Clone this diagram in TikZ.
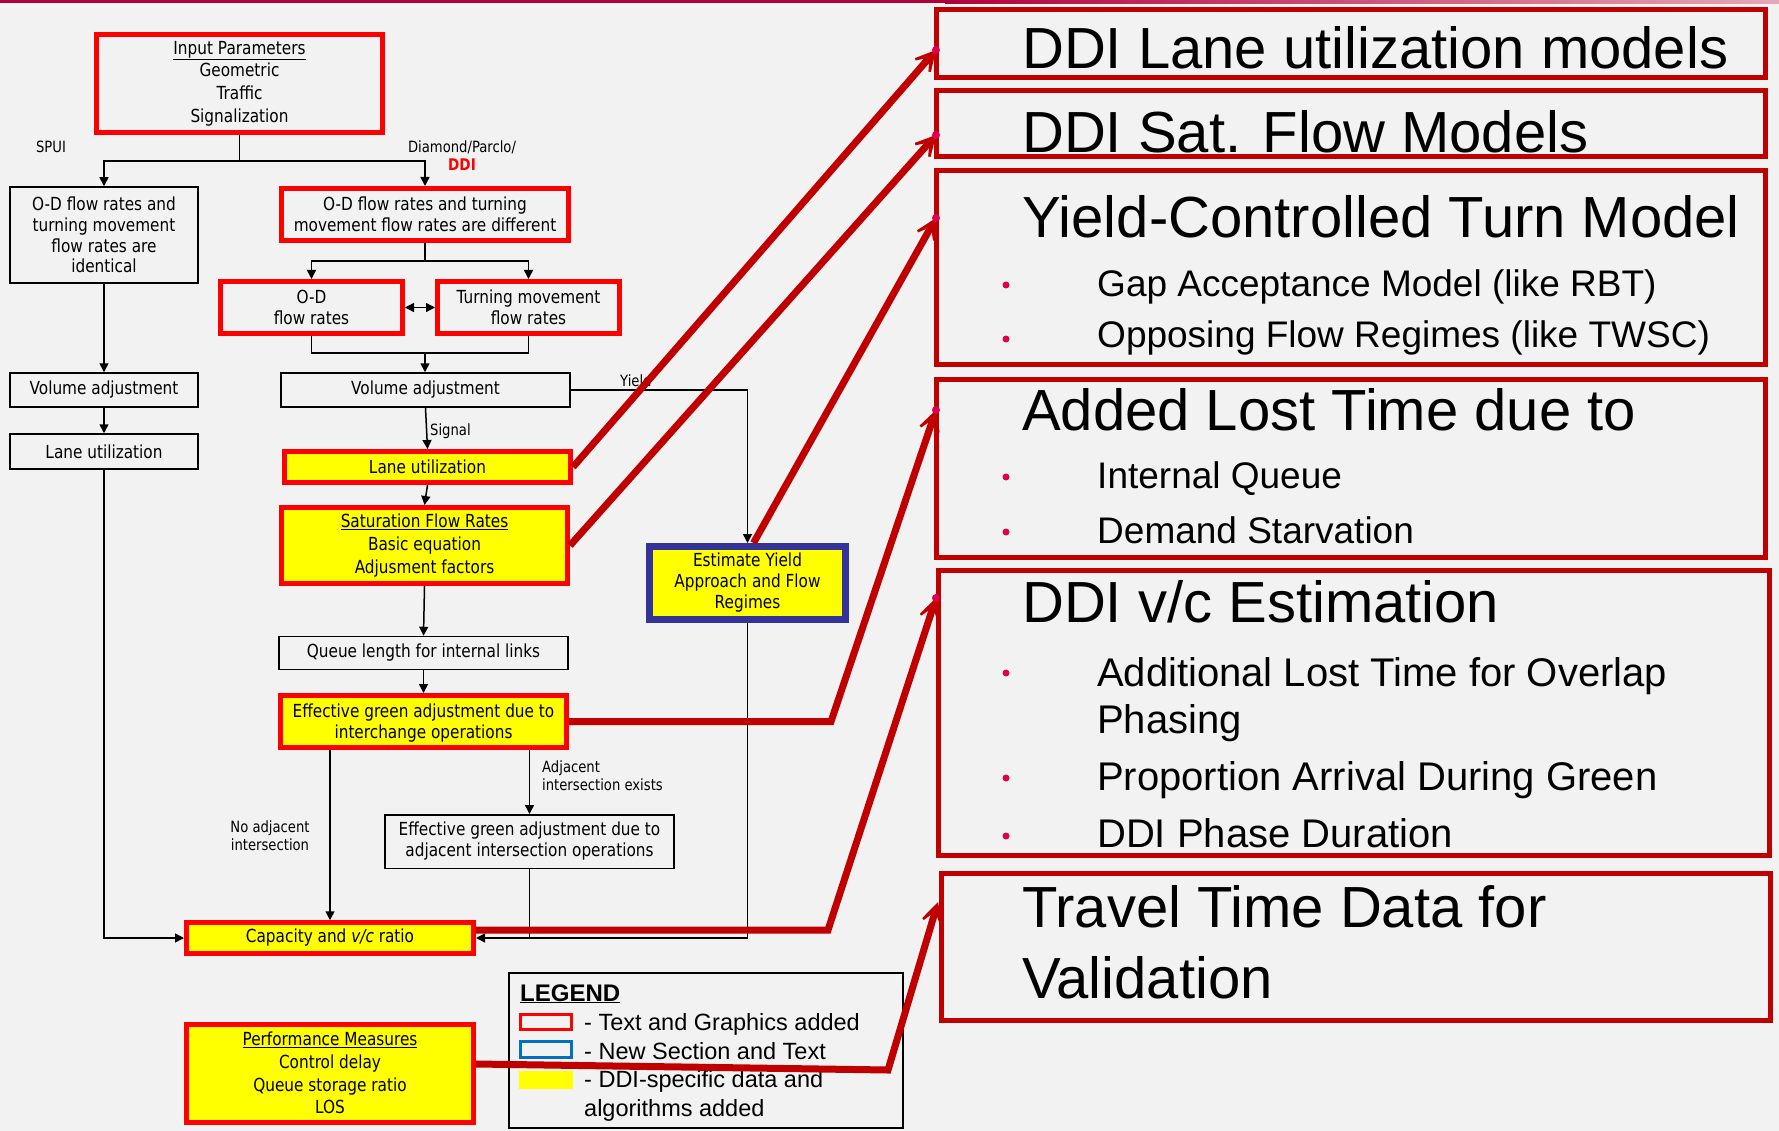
\documentclass[tikz,border=0pt]{standalone}
\usepackage{fontspec}
\setmainfont{Liberation Sans}
\newfontfamily\flowfont[FakeStretch=0.85]{DejaVu Sans}
\usetikzlibrary{arrows.meta,calc}
\definecolor{bg}{HTML}{F2F2F2}
\definecolor{fred}{HTML}{FF0000}
\definecolor{dred}{HTML}{C00000}
\definecolor{fyel}{HTML}{FFFF00}
\definecolor{fblue}{HTML}{333399}
\definecolor{lblue}{HTML}{0070C0}
\definecolor{bul}{HTML}{E0004D}
\definecolor{topred}{HTML}{B0003A}
\definecolor{toppink}{HTML}{E6A8B8}
\begin{document}
\begin{tikzpicture}[x=1pt,y=-1pt,
  fbox/.style={draw=black,line width=1.5pt,inner sep=0pt,align=center,font=\flowfont\fontsize{18}{21}\selectfont},
  wide/.style={font=\flowfont\fontsize{18}{22.7}\selectfont},
  redb/.style={fbox,draw=fred,line width=5pt},
  yelb/.style={redb,fill=fyel},
  lbl/.style={inner sep=0pt,font=\flowfont\fontsize{15.5}{18}\selectfont},
  conn/.style={line width=1.5pt,-{Triangle[length=9pt,width=9pt]}},
  plain/.style={line width=1.5pt},
  bigarr/.style={draw=dred,line width=7pt,line join=miter,-{Stealth[length=34pt,width=36pt,inset=24pt]}},
  rbox/.style={draw=dred,line width=5pt,inner sep=0pt},
  ttl/.style={anchor=base west,inner sep=0pt,font=\fontsize{58}{60}\selectfont},
  itm/.style={anchor=base west,inner sep=0pt,font=\fontsize{37}{40}\selectfont},
  itmb/.style={anchor=base west,inner sep=0pt,font=\fontsize{40}{42}\selectfont},
  bdot/.style={circle,fill=bul,inner sep=0pt,minimum size=7pt},
  lt/.style={anchor=base west,inner sep=0pt,font=\fontsize{23.5}{26}\selectfont},
]
\useasboundingbox (0,0) rectangle (1779,1131);
\fill[bg] (0,0) rectangle (1779,1131);
\fill[topred] (0,0) rectangle (945,3.5);
\shade[left color=topred,right color=toppink] (945,0) rectangle (1779,3.5);

% ---------- flowchart nodes ----------
\node[redb,wide,minimum width=286pt,minimum height=98pt] (inp) at (239.5,83.5)
  {\underline{Input Parameters}\\Geometric\\Traffic\\Signalization};
\node[fbox,font=\flowfont\fontsize{18}{20.7}\selectfont,minimum width=188pt,minimum height=96pt] (odsame) at (104,235)
  {O-D flow rates and\\turning movement\\flow rates are\\identical};
\node[redb,minimum width=287pt,minimum height=52pt] (oddiff) at (425,214.5)
  {O-D flow rates and turning\\movement flow rates are different};
\node[redb,minimum width=182pt,minimum height=52pt] (odr) at (311.5,307.5) {O-D\\flow rates};
\node[redb,minimum width=182pt,minimum height=52pt] (tmr) at (528.5,307.5) {Turning movement\\flow rates};
\node[fbox,minimum width=289pt,minimum height=34pt] (volR) at (425.5,390) {Volume adjustment};
\node[fbox,minimum width=188pt,minimum height=34pt] (volL) at (104,390) {Volume adjustment};
\node[fbox,minimum width=188pt,minimum height=35pt] (laneL) at (104,451.5) {Lane utilization};
\node[yelb,minimum width=286pt,minimum height=31pt] (laneR) at (427.5,467) {Lane utilization};
\node[yelb,wide,minimum width=286pt,minimum height=76pt] (sat) at (424.5,545.5)
  {\underline{Saturation Flow Rates}\\Basic equation\\Adjusment factors};
\node[fbox,minimum width=289pt,minimum height=33pt] (queue) at (423.5,653) {Queue length for internal links};
\node[yelb,minimum width=286pt,minimum height=52pt,text depth=1pt] (effg) at (423.5,721.5)
  {Effective green adjustment due to\\interchange operations};
\node[fbox,minimum width=289pt,minimum height=53.5pt] (adj) at (529.5,841.5)
  {Effective green adjustment due to\\adjacent intersection operations};
\node[yelb,minimum width=287pt,minimum height=30.5pt] (cap) at (330,938) {Capacity and \textit{v/c} ratio};
\node[yelb,wide,minimum width=287pt,minimum height=98pt] (perf) at (330,1073)
  {\underline{Performance Measures}\\Control delay\\Queue storage ratio\\LOS};
\node[fbox,draw=fblue,fill=fyel,line width=7pt,minimum width=196pt,minimum height=73pt] (est) at (747.5,583)
  {Estimate Yield\\Approach and Flow\\Regimes};

% ---------- labels ----------
\node[lbl] (spui) at (51,147) {SPUI};
\node[lbl] (dia) at (462,147) {Diamond/Parclo/};
\node[lbl,text=fred,font=\flowfont\bfseries\fontsize{16}{18}\selectfont] (ddi) at (462,165) {DDI};
\node[lbl,anchor=west] (sig) at (430,431) {Signal};
\node[lbl,anchor=west] (yld) at (620,381) {Yield};
\node[lbl,anchor=north west,align=left] (adjl) at (542,760.5) {Adjacent\\intersection exists};
\node[lbl,align=center] (noadj) at (270,835.5) {No adjacent\\intersection};

% ---------- connectors ----------
\coordinate (j1) at (239.5,161);
\draw[plain] (inp.south) -- (j1);
\draw[conn] (j1) -| (odsame.north);
\draw[conn] (j1) -| (oddiff.north);
\coordinate (j2) at (425,261);
\draw[plain] (oddiff.south) -- (j2);
\draw[conn] (j2) -| (odr.north);
\draw[conn] (j2) -| (tmr.north);
\draw[line width=1.5pt,{Triangle[length=9pt,width=9pt]}-{Triangle[length=9pt,width=9pt]}] (odr.east) -- (tmr.west);
\coordinate (j3) at (425,353);
\draw[plain] (odr.south) |- (j3) -| (tmr.south);
\draw[conn] (j3) -- (j3 |- volR.north);
\draw[conn] (odsame.south) -- (volL.north);
\draw[conn] (volL.south) -- (laneL.north);
\draw[conn] (laneL.south) |- (cap.west);
\draw[conn] (volR.south) -- (laneR.north);
\draw[conn] (laneR.south) -- (sat.north);
\draw[conn] (sat.south) -- (queue.north);
\draw[conn] (queue.south) -- (effg.north);
\draw[conn] (effg.south -| cap.north) -- (cap.north);
\draw[conn] (effg.south -| adj.north) -- (adj.north);
\coordinate (j4) at (747.5,938);
\draw[plain] (adj.south) -- (adj.south |- j4);
\draw[conn] (volR.east) -| (est.north);
\draw[plain] (est.south) -- (j4);
\draw[conn] (j4) -- (cap.east);

% ---------- legend ----------
\node[draw=black,line width=2pt,minimum width=394pt,minimum height=155pt,inner sep=0pt] (leg) at (706,1050.5) {};
\node[anchor=base west,inner sep=0pt,font=\bfseries\fontsize{24}{26}\selectfont] (legt) at (520,1001) {\underline{LEGEND}};
\node[draw=fred,line width=3pt,minimum width=51pt,minimum height=14.5pt,inner sep=0pt] (lk1) at (546,1022) {};
\node[draw=lblue,line width=3pt,minimum width=51pt,minimum height=16pt,inner sep=0pt] (lk2) at (546,1049.5) {};
\node[fill=fyel,minimum width=54pt,minimum height=18.5pt,inner sep=0pt] (lk3) at (546,1080) {};
\node[lt] (l1) at (584,1030) {- Text and Graphics added};
\node[lt] (l2) at (584,1059) {- New Section and Text};
\node[lt] (l3) at (584,1087.5) {- DDI-specific data and};
\node[lt] (l4) at (584,1116) {algorithms added};

% ---------- right panels ----------
\node[rbox,minimum width=829pt,minimum height=68pt] (rb1) at (1351,43.5) {};
\node[rbox,minimum width=829pt,minimum height=66pt] (rb2) at (1351,123.5) {};
\node[rbox,minimum width=829pt,minimum height=194pt] (rb3) at (1351,267.5) {};
\node[rbox,minimum width=829pt,minimum height=178pt] (rb4) at (1351,468.5) {};
\node[rbox,minimum width=831pt,minimum height=285pt] (rb5) at (1354,713) {};
\node[rbox,minimum width=829pt,minimum height=147pt] (rb6) at (1356,947) {};

\node[ttl] (h1) at (1022,69) {DDI Lane utilization models};
\node[ttl] (h2) at (1022,153) {DDI Sat. Flow Models};
\node[ttl] (h3) at (1022,238) {Yield-Controlled Turn Model};
\node[itm] (i31) at (1097,297) {Gap Acceptance Model (like RBT)};
\node[itm] (i32) at (1097,348) {Opposing Flow Regimes (like TWSC)};
\node[ttl] (h4) at (1022,430) {Added Lost Time due to};
\node[itm] (i41) at (1097,488) {Internal Queue};
\node[itm] (i42) at (1097,543) {Demand Starvation};
\node[ttl] (h5) at (1022,622) {DDI v/c Estimation};
\node[itmb] (i51) at (1097,686) {Additional Lost Time for Overlap};
\node[itmb] (i52) at (1097,733) {Phasing};
\node[itmb] (i53) at (1097,790) {Proportion Arrival During Green};
\node[itmb] (i54) at (1097,847) {DDI Phase Duration};
\node[ttl] (h6) at (1022,927) {Travel Time Data for};
\node[ttl] (h6b) at (1022,998) {Validation};

\node[bdot] (b31) at (1006,285) {};
\node[bdot] (b32) at (1006,339) {};
\node[bdot] (b41) at (1006,477) {};
\node[bdot] (b42) at (1006,532) {};
\node[bdot] (b51) at (1006,673) {};
\node[bdot] (b53) at (1006,778) {};
\node[bdot] (b54) at (1006,836) {};

% ---------- red arrows ----------
\coordinate (t1) at (936,50);
\coordinate (t2) at (936,135);
\coordinate (t3) at (936,218);
\coordinate (t4) at (936,410);
\coordinate (t5) at (936,598);
\coordinate (t6) at (938,902);
\coordinate (c4) at (831,721.5);
\coordinate (c5) at (828,930);
\coordinate (c6) at (888,1070);
\draw[bigarr] (laneR.east) -- (t1);
\draw[bigarr] (sat.east) -- (t2);
\draw[bigarr] ([xshift=6pt]est.north) -- (t3);
\draw[bigarr] (effg.east) -- (c4) -- (t4);
\draw[bigarr] ([yshift=8pt]cap.east) -- (c5) -- (t5);
\draw[bigarr] ([yshift=9pt]perf.east) -- (c6) -- (t6);
\foreach \t in {t1,t2,t3,t4,t5}{\fill[bul] (\t) circle (4pt);}
\end{tikzpicture}
\end{document}
